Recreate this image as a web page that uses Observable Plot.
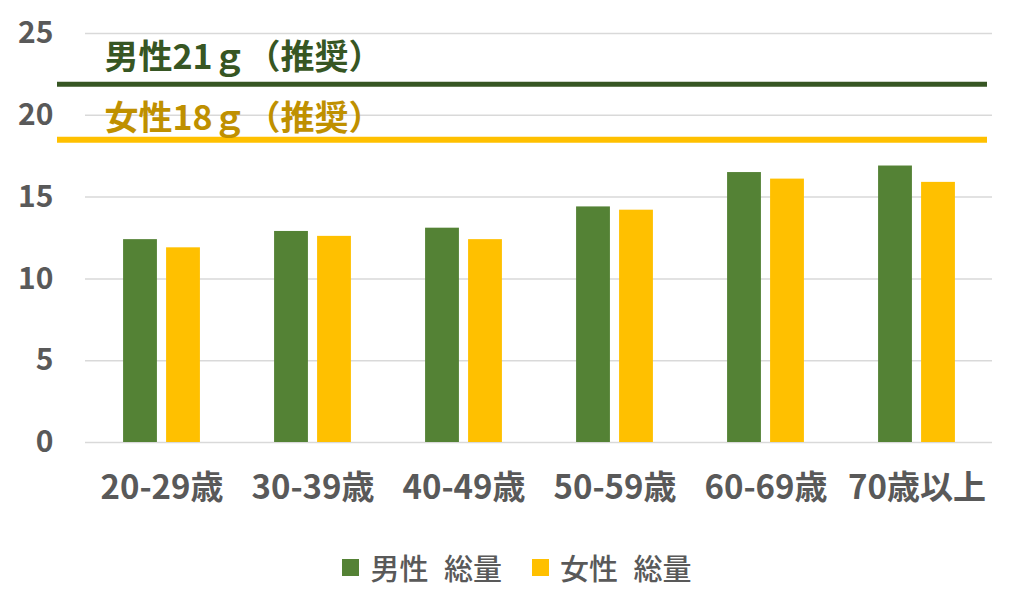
<!DOCTYPE html>
<html>
<head>
<meta charset="utf-8">
<script src="https://cdn.jsdelivr.net/npm/d3@7"></script>
<script src="https://cdn.jsdelivr.net/npm/@observablehq/plot@0.6"></script>
<style>
  html, body { margin: 0; padding: 0; background: #ffffff; }
  body { width: 1024px; height: 614px; overflow: hidden; font-family: "Noto Sans CJK JP", "Noto Sans", sans-serif; }
  #legend { display: flex; justify-content: center; align-items: center; height: 40px; margin-top: 17px; padding-left: 10px; color: #595959; font-size: 29px; font-weight: 500; }
  .item { display: flex; align-items: center; margin: 0 15px; }
  .sw { width: 17px; height: 17px; margin-right: 11px; }
  .item span { word-spacing: 9px; }
</style>
</head>
<body>
<div id="chart"></div>
<div id="legend"></div>
<script>
const ageGroups = ["20-29歳", "30-39歳", "40-49歳", "50-59歳", "60-69歳", "70歳以上"];
const maleTotal = [12.4, 12.9, 13.1, 14.4, 16.5, 16.9];
const femaleTotal = [11.9, 12.6, 12.4, 14.2, 16.1, 15.9];
const seriesNames = ["男性 総量", "女性 総量"];
const seriesColors = ["#548235", "#FFC000"];
const yTicks = [0, 5, 10, 15, 20, 25];
const recommendLabels = ["男性21ｇ（推奨）", "女性18ｇ（推奨）"];
const recommendLineValues = [21.9, 18.5];
const recommendLineColors = ["#375623", "#FFC000"];
const recommendTextColors = ["#375623", "#BF9000"];

const maleData = ageGroups.map((a, i) => ({age: a, value: maleTotal[i]}));
const femaleData = ageGroups.map((a, i) => ({age: a, value: femaleTotal[i]}));

const W = 1024, H = 530;
const mL = 85, mR = 32;
const band = (W - mL - mR) / ageGroups.length;
const barW = 34, gap = 9;
const outer = (band - 2 * barW - gap) / 2;

const chart = Plot.plot({
  width: W,
  height: H,
  marginLeft: mL,
  marginRight: mR,
  marginTop: 33,
  marginBottom: 88,
  style: {fontFamily: "'Noto Sans CJK JP', 'Noto Sans', sans-serif", background: "#ffffff"},
  x: {domain: ageGroups, padding: 0},
  y: {domain: [0, 25]},
  marks: [
    Plot.gridY(yTicks, {stroke: "#d9d9d9", strokeOpacity: 1, strokeWidth: 1.5}),
    Plot.barY(maleData, {x: "age", y: "value", fill: seriesColors[0], insetLeft: outer, insetRight: outer + barW + gap}),
    Plot.barY(femaleData, {x: "age", y: "value", fill: seriesColors[1], insetLeft: outer + barW + gap, insetRight: outer}),
    Plot.ruleY([recommendLineValues[0]], {stroke: recommendLineColors[0], strokeWidth: 5, insetLeft: -28, insetRight: 5}),
    Plot.ruleY([recommendLineValues[1]], {stroke: recommendLineColors[1], strokeWidth: 6, insetLeft: -28, insetRight: 5}),
    Plot.text([recommendLabels[0]], {y: () => recommendLineValues[0], text: d => d, frameAnchor: "left", textAnchor: "start", dx: 19, dy: -26, fill: recommendTextColors[0], fontSize: 34, fontWeight: "bold"}),
    Plot.text([recommendLabels[1]], {y: () => recommendLineValues[1], text: d => d, frameAnchor: "left", textAnchor: "start", dx: 19, dy: -21, fill: recommendTextColors[1], fontSize: 34, fontWeight: "bold"}),
    Plot.axisY(yTicks, {tickSize: 0, tickPadding: 32, fontSize: 30, fontWeight: "bold", fill: "#595959", label: null}),
    Plot.axisX({tickSize: 0, tickPadding: 33, fontSize: 33, fontWeight: "bold", fill: "#595959", label: null})
  ]
});
document.getElementById("chart").appendChild(chart);

const legend = document.getElementById("legend");
seriesNames.forEach((name, i) => {
  const item = document.createElement("div");
  item.className = "item";
  const sw = document.createElement("div");
  sw.className = "sw";
  sw.style.background = seriesColors[i];
  const label = document.createElement("span");
  label.textContent = name;
  item.appendChild(sw);
  item.appendChild(label);
  legend.appendChild(item);
});
</script>
</body>
</html>
